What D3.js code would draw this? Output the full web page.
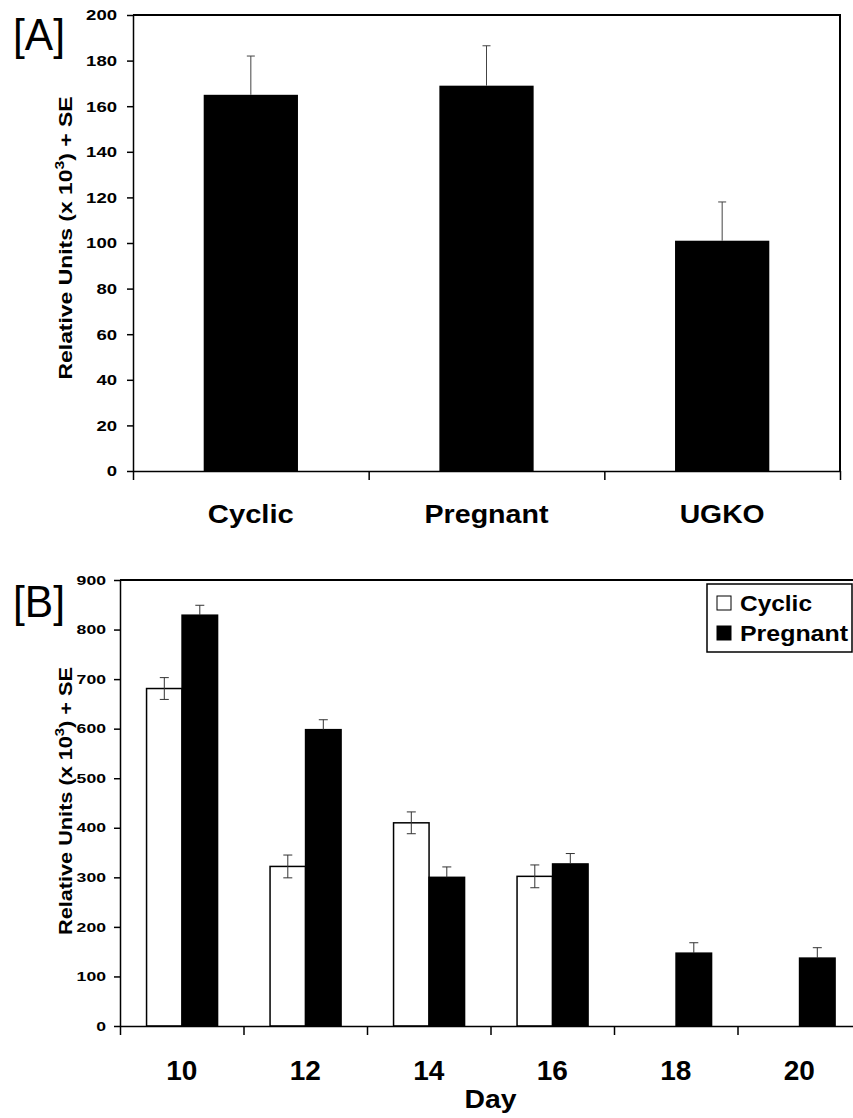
<!DOCTYPE html>
<html>
<head>
<meta charset="utf-8">
<script src="https://cdn.jsdelivr.net/npm/d3@7"></script>
<style>
  body { margin: 0; background: #fff; }
  text { font-family: "Liberation Sans", Arial, sans-serif; }
</style>
</head>
<body>
<div id="chart"></div>
<script>
// panel A data
var groupsA = ["Cyclic", "Pregnant", "UGKO"]
var valuesA = [165, 169, 101]
var errorsA = [17, 17.5, 17]
var ticksA = [0, 20, 40, 60, 80, 100, 120, 140, 160, 180, 200]

// panel B data
var days = ["10", "12", "14", "16", "18", "20"]
var series = ["Cyclic", "Pregnant"]
var cyclicVals = [681, 322, 410, 302, null, null]
var cyclicSE = [22, 23, 22, 23, null, null]
var pregnantVals = [829, 598, 300, 327, 147, 137]
var pregnantSE = [20, 20, 21, 21, 21, 21]
var ticksB = [0, 100, 200, 300, 400, 500, 600, 700, 800, 900]

var svg = d3.select("#chart")
  .append("svg")
  .attr("width", 853)
  .attr("height", 1118)

svg.append("rect").attr("width", 853).attr("height", 1118).attr("fill", "#fff")

// stretch text to a given width (the original figure is wider than normal fonts)
function fit(sel, w) {
  sel.attr("textLength", w).attr("lengthAdjust", "spacingAndGlyphs")
}

function yTitle(g, x, y, len) {
  var t = g.append("text")
    .attr("transform", `translate(${x}, ${y}) rotate(-90)`)
    .attr("text-anchor", "middle")
    .attr("font-size", 19)
    .attr("font-weight", "bold")
  t.append("tspan").text("Relative Units (x 10")
  t.append("tspan").attr("font-size", 13).attr("dy", -8).text("3")
  t.append("tspan").attr("dy", 8).text(") + SE")
  fit(t, len)
}

// ---------- Panel A ----------
var a = { left: 133, right: 840, top: 15, bottom: 471 }

var xA = d3.scaleBand().domain(groupsA).range([a.left, a.right])
var yA = d3.scaleLinear().domain([0, 200]).range([a.bottom, a.top])
var xEdgeA = d3.scaleLinear().domain([0, groupsA.length]).range([a.left, a.right])

var gA = svg.append("g")

// bars
var barWA = xA.bandwidth() * 0.4
gA.selectAll(".barA")
  .data(groupsA)
  .enter()
  .append("rect")
  .attr("x", d => xA(d) + xA.bandwidth() / 2 - barWA / 2)
  .attr("y", (d, i) => yA(valuesA[i]))
  .attr("width", barWA)
  .attr("height", (d, i) => yA(0) - yA(valuesA[i]))
  .attr("fill", "#000")

// error bars (upper only)
groupsA.forEach(function(d, i) {
  var cx = xA(d) + xA.bandwidth() / 2
  gA.append("line")
    .attr("x1", cx).attr("x2", cx)
    .attr("y1", yA(valuesA[i])).attr("y2", yA(valuesA[i] + errorsA[i]))
    .attr("stroke", "#444").attr("stroke-width", 1)
  gA.append("line")
    .attr("x1", cx - 4).attr("x2", cx + 4)
    .attr("y1", yA(valuesA[i] + errorsA[i])).attr("y2", yA(valuesA[i] + errorsA[i]))
    .attr("stroke", "#444").attr("stroke-width", 1)
})

// frame top + right
gA.append("path")
  .attr("d", `M${a.left},${a.top}H${a.right}V${a.bottom}`)
  .attr("fill", "none").attr("stroke", "#000").attr("stroke-width", 2)

// y axis
var yAxisA = gA.append("g")
  .attr("transform", `translate(${a.left}, 0)`)
  .call(d3.axisLeft(yA).tickValues(ticksA).tickSize(6).tickSizeOuter(0).tickPadding(10))
yAxisA.selectAll("text")
  .attr("font-size", 15).attr("font-weight", "bold").attr("fill", "#000")
  .attr("font-family", "Liberation Sans, Arial, sans-serif")
  .each(function(d) { fit(d3.select(this), String(d).length * 10.3) })

// x axis with ticks at category edges
gA.append("g")
  .attr("transform", `translate(0, ${a.bottom})`)
  .call(d3.axisBottom(xEdgeA).tickValues(d3.range(groupsA.length + 1)).tickFormat("").tickSize(9).tickSizeOuter(0))

gA.selectAll(".domain, .tick line").attr("stroke", "#000").attr("stroke-width", 1.5)

var labelWA = { Cyclic: 86, Pregnant: 124, UGKO: 85 }
gA.selectAll(".xlabA")
  .data(groupsA)
  .enter()
  .append("text")
  .attr("x", d => xA(d) + xA.bandwidth() / 2)
  .attr("y", 523)
  .attr("text-anchor", "middle")
  .attr("font-size", 26)
  .attr("font-weight", "bold")
  .text(d => d)
  .each(function(d) { fit(d3.select(this), labelWA[d]) })

yTitle(gA, 72, 238, 283)

var tagA = svg.append("text").attr("x", 13).attr("y", 50).attr("font-size", 44).text("[A]")
fit(tagA, 52)

// ---------- Panel B ----------
var b = { left: 120, right: 861, top: 580, bottom: 1026 }

var x0 = d3.scaleBand().domain(days).range([b.left, b.right])
var bw = x0.bandwidth()
var x1 = d3.scaleBand().domain(series).range([bw * 0.215, bw * 0.79])
var yB = d3.scaleLinear().domain([0, 900]).range([b.bottom, b.top])
var xEdgeB = d3.scaleLinear().domain([0, days.length]).range([b.left, b.right])

var gB = svg.append("g")

var rowsB = days.map(function(d, i) {
  return {
    day: d,
    bars: [
      { key: "Cyclic", value: cyclicVals[i], se: cyclicSE[i] },
      { key: "Pregnant", value: pregnantVals[i], se: pregnantSE[i] }
    ]
  }
})

var dayGroups = gB.selectAll(".day")
  .data(rowsB)
  .enter()
  .append("g")
  .attr("transform", d => `translate(${x0(d.day)}, 0)`)

var barsB = dayGroups.selectAll("g")
  .data(d => d.bars.filter(e => e.value !== null))
  .enter()
  .append("g")

barsB.append("rect")
  .attr("x", d => x1(d.key))
  .attr("y", d => yB(d.value))
  .attr("width", x1.bandwidth())
  .attr("height", d => yB(0) - yB(d.value))
  .attr("fill", d => d.key === "Cyclic" ? "#fff" : "#000")
  .attr("stroke", "#000")
  .attr("stroke-width", 1.5)

// error bars, both sides
barsB.each(function(d) {
  var g = d3.select(this)
  var cx = x1(d.key) + x1.bandwidth() / 2
  g.append("line")
    .attr("x1", cx).attr("x2", cx)
    .attr("y1", yB(d.value - d.se)).attr("y2", yB(d.value + d.se))
    .attr("stroke", "#333").attr("stroke-width", 1)
  ;[d.value - d.se, d.value + d.se].forEach(function(v) {
    g.append("line")
      .attr("x1", cx - 4.5).attr("x2", cx + 4.5)
      .attr("y1", yB(v)).attr("y2", yB(v))
      .attr("stroke", "#333").attr("stroke-width", 1)
  })
})

// black bars hide the lower half of their own error bar
barsB.filter(d => d.key === "Pregnant")
  .append("rect")
  .attr("x", d => x1(d.key))
  .attr("y", d => yB(d.value))
  .attr("width", x1.bandwidth())
  .attr("height", d => yB(0) - yB(d.value))
  .attr("fill", "#000")

// frame top + right
gB.append("path")
  .attr("d", `M${b.left},${b.top}H${b.right}V${b.bottom}`)
  .attr("fill", "none").attr("stroke", "#000").attr("stroke-width", 2)

var yAxisB = gB.append("g")
  .attr("transform", `translate(${b.left}, 0)`)
  .call(d3.axisLeft(yB).tickValues(ticksB).tickSize(6).tickSizeOuter(0).tickPadding(8))
yAxisB.selectAll("text")
  .attr("font-size", 13).attr("font-weight", "bold").attr("fill", "#000")
  .attr("font-family", "Liberation Sans, Arial, sans-serif")
  .each(function(d) { fit(d3.select(this), String(d).length * 9.8) })

gB.append("g")
  .attr("transform", `translate(0, ${b.bottom})`)
  .call(d3.axisBottom(xEdgeB).tickValues(d3.range(days.length + 1)).tickFormat("").tickSize(9).tickSizeOuter(0))

gB.selectAll(".domain, .tick line").attr("stroke", "#000").attr("stroke-width", 1.5)

gB.selectAll(".xlabB")
  .data(days)
  .enter()
  .append("text")
  .attr("x", d => x0(d) + bw / 2)
  .attr("y", 1080)
  .attr("text-anchor", "middle")
  .attr("font-size", 28)
  .attr("font-weight", "bold")
  .text(d => d)

var dayLabel = gB.append("text")
  .attr("x", (b.left + b.right) / 2)
  .attr("y", 1108)
  .attr("text-anchor", "middle")
  .attr("font-size", 25)
  .attr("font-weight", "bold")
  .text("Day")
fit(dayLabel, 52)

yTitle(gB, 72, 801, 268)

var tagB = svg.append("text").attr("x", 13).attr("y", 617).attr("font-size", 44).text("[B]")
fit(tagB, 52)

// legend
var legend = gB.append("g").attr("transform", "translate(707, 584)")
legend.append("rect")
  .attr("width", 145).attr("height", 68)
  .attr("fill", "#fff").attr("stroke", "#000").attr("stroke-width", 1.5)

var legendW = { Cyclic: 72, Pregnant: 108 }
series.forEach(function(s, i) {
  legend.append("rect")
    .attr("x", 10).attr("y", 12 + i * 30)
    .attr("width", 14).attr("height", 14)
    .attr("fill", s === "Cyclic" ? "#fff" : "#000")
    .attr("stroke", "#000").attr("stroke-width", 1)
  var t = legend.append("text")
    .attr("x", 33).attr("y", 27 + i * 30)
    .attr("font-size", 22).attr("font-weight", "bold")
    .text(s)
  fit(t, legendW[s])
})
</script>
</body>
</html>
